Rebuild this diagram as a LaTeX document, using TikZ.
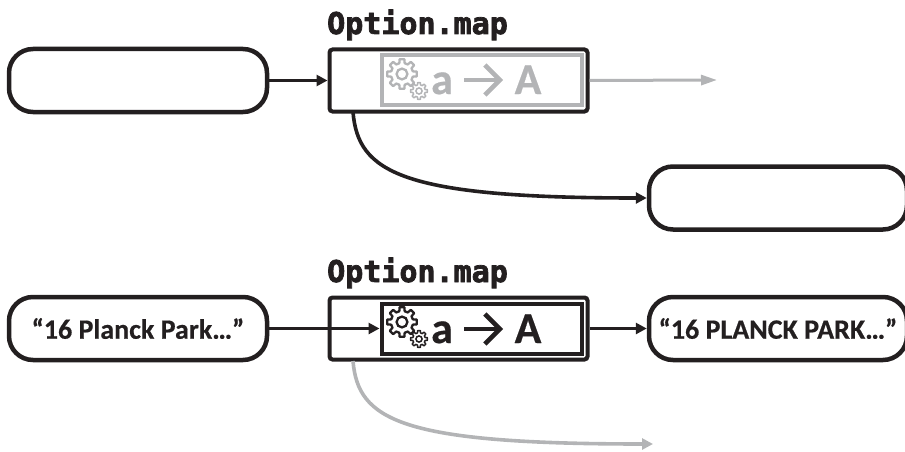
\documentclass[tikz,border=0pt]{standalone}
\usepackage{fontspec}
\setmainfont{Carlito}[BoldFeatures={FakeBold=0.5}]
\newfontfamily\codefont{DejaVu Sans Mono}[BoldFeatures={FakeBold=2.5}]
\usetikzlibrary{arrows.meta}
\definecolor{ink}{HTML}{231F20}
\definecolor{faded}{HTML}{B3B4B6}
% colour, x, y, radius, line width
\newcommand{\gearshape}[5]{%
  \begin{scope}[shift={(#2,#3)}]
    \draw[#1,line width=#5pt,line join=round,fill=white] ({-14}:{0.74*#4})
      \foreach \k in {0,45,...,315}{
        -- ({\k-14}:{0.74*#4}) -- ({\k-9}:{#4}) -- ({\k+9}:{#4}) -- ({\k+14}:{0.74*#4})
      } -- cycle;
    \draw[#1,line width=#5pt] (0,0) circle ({0.36*#4});
  \end{scope}}
\tikzset{
  x=1pt,y=-1pt,
  pill/.style={draw=ink,line width=4.5pt,rounded corners=24pt,fill=white,minimum width=258pt,minimum height=63pt,inner sep=0pt,font=\bfseries\fontsize{28}{30}\selectfont,text=ink},
  outerbox/.style={draw=ink,line width=4pt,rounded corners=3pt,minimum width=258pt,minimum height=62pt,inner sep=0pt},
  innerbox/.style={line width=4pt,minimum width=200pt,minimum height=50pt,inner sep=0pt},
  title/.style={font=\codefont\bfseries\fontsize{30}{32}\selectfont,text=ink,inner sep=0pt,anchor=base west},
  letter/.style={font=\bfseries\fontsize{44}{46}\selectfont,inner sep=0pt,anchor=base},
  conn/.style={line width=3pt,-{Triangle[length=11pt,width=11pt]}},
  barb/.style={line width=4.5pt,-{Straight Barb[length=15pt,width=30pt,line width=4.5pt]}},
}
\begin{document}
\begin{tikzpicture}
\useasboundingbox (0,0) rectangle (905,452);
% top row
\node[pill] (inA) at (138,80.5) {};
\node[pill] (outA) at (778,198) {};
\node[outerbox] (mapA) at (458.5,80.5) {};
\node[innerbox,draw=faded] (fnA) at (481.5,80) {};
\node[title] (titleA) at (327,34) {Option.map};
\gearshape{faded}{402}{74}{15}{2.3}
\gearshape{faded}{419}{91}{8.5}{1.5}
\node[letter,text=faded] (lowA) at (442,94) {a};
\node[letter,text=faded] (capA) at (528,94) {A};
\coordinate (fa) at (464,80);
\coordinate (ga) at (503,80);
\draw[barb,draw=faded] (fa) -- (ga);
\draw[conn,draw=ink] (inA.east) -- (mapA.west);
\coordinate (endA) at (717,80);
\draw[conn,draw=faded,-{Triangle[length=16pt,width=10pt]}] (mapA.east) -- (endA);
\coordinate (tapA) at (353,112);
\draw[conn,draw=ink,line width=3.6pt] (tapA) .. controls (358,172) and (400,198) .. (outA.west);
% bottom row
\node[pill] (inB) at (138,328.5) {“16 Planck Park…”};
\node[pill] (outB) at (778,328.5) {“16 PLANCK PARK…”};
\node[outerbox] (mapB) at (458.5,328.5) {};
\node[innerbox,draw=ink] (fnB) at (481.5,328.5) {};
\node[title] (titleB) at (327,282) {Option.map};
\gearshape{ink}{402}{322}{15}{2.3}
\gearshape{ink}{419}{339}{8.5}{1.5}
\node[letter,text=ink] (lowB) at (442,343) {a};
\node[letter,text=ink] (capB) at (528,343) {A};
\coordinate (fb) at (464,329);
\coordinate (gb) at (503,329);
\draw[barb,draw=ink] (fb) -- (gb);
\draw[conn,draw=ink] (inB.east) -- (fnB.west);
\draw[conn,draw=ink] (mapB.east) -- (outB.west);
\coordinate (tapB) at (353,361);
\coordinate (endB) at (653,444);
\draw[conn,draw=faded,line width=3.6pt] (tapB) .. controls (358,420) and (400,444) .. (endB);
\end{tikzpicture}
\end{document}
